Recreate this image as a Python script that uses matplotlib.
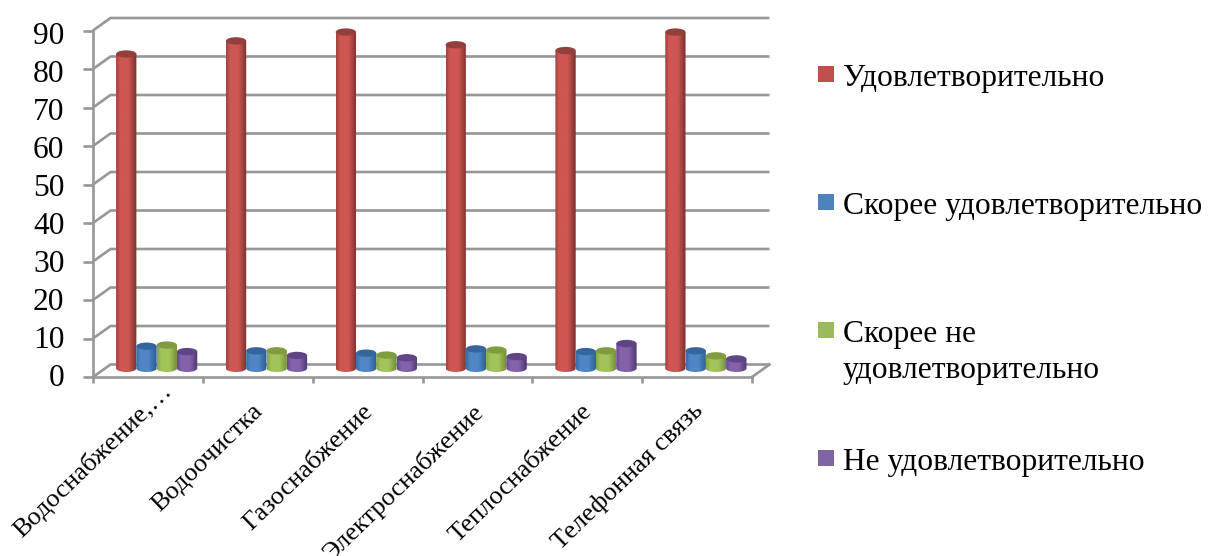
import numpy as np
import matplotlib
matplotlib.use("Agg")
import matplotlib.pyplot as plt
from matplotlib.colors import LinearSegmentedColormap
from matplotlib.patches import Ellipse, PathPatch, Rectangle
from matplotlib.path import Path
from matplotlib.transforms import ScaledTranslation

plt.rcParams['font.family'] = ['Liberation Serif', 'DejaVu Serif']

categories = ["Водоснабжение,…", "Водоочистка", "Газоснабжение",
              "Электроснабжение", "Теплоснабжение", "Телефонная связь"]
series_names = ["Удовлетворительно", "Скорее удовлетворительно",
                "Скорее не\nудовлетворительно", "Не удовлетворительно"]
satisfied = [82.6, 86.0, 88.3, 85.0, 83.5, 88.3]
rather_satisfied = [6.7, 5.5, 4.9, 6.0, 5.3, 5.5]
rather_not = [7.0, 5.5, 4.4, 5.7, 5.5, 4.2]
not_satisfied = [5.3, 4.3, 3.7, 4.0, 7.4, 3.4]
series = [satisfied, rather_satisfied, rather_not, not_satisfied]
y_ticks = list(range(0, 100, 10))

# (left edge, light, right edge, top cap, legend)
palette = [("#a04340", "#cf5653", "#78302d", "#933f3c", "#c0504d"),
           ("#3a6ca6", "#4f86c6", "#2c5a8f", "#35659c", "#4f81bd"),
           ("#86a645", "#a2c45a", "#6f8a35", "#7f9c40", "#9bbb59"),
           ("#654a8c", "#8562ab", "#4e3870", "#5f4585", "#8064a2")]
legend_y = [74, 202, 330, 458]
label_dx = [12, -6, -6, -6, -6, -6]
label_dy = [379, 400, 400, 400, 400, 399]

W, H = 1208, 556
fig = plt.figure(figsize=(W / 100, H / 100), dpi=100, facecolor="white")
x0, x1, y0, y90 = 93, 752, 377, 30.5
ax = fig.add_axes([x0 / W, 1 - y0 / H, (x1 - x0) / W, (y0 - y90) / H])
ax.set_xlim(0, 6)
ax.set_ylim(0, 90)
ax.patch.set_alpha(0)

grey = "#979797"
lw = 1.9
dx, dy = 17.5 / 109.8, 12.5 / 3.85
px = 72 / 100  # one pixel in points

# back wall and side wall lines
for v in y_ticks:
    ax.plot([0, dx, 6 + dx], [v, v + dy, v + dy], color=grey, lw=lw, clip_on=False, zorder=1,
            solid_capstyle="butt", solid_joinstyle="miter")
ax.plot([6, 6 + dx], [0, dy], color=grey, lw=lw, clip_on=False, zorder=1)

for s in ("top", "right"):
    ax.spines[s].set_visible(False)
for s in ("left", "bottom"):
    ax.spines[s].set_color(grey)
    ax.spines[s].set_linewidth(lw)
    ax.spines[s].set_zorder(2)
ax.set_yticks(y_ticks)
ax.set_xticks(range(7))
ax.set_xticklabels([])
ax.tick_params(axis="y", length=7.5, width=lw, color=grey, labelsize=22.7, pad=13)
ax.tick_params(axis="x", length=4, width=lw, color=grey)
for v, lab in zip(y_ticks, ax.get_yticklabels()):
    lab.set_verticalalignment("center")
    lab.set_transform(lab.get_transform() +
                      ScaledTranslation(0, -(1 + (v / 90) * 4.5) / 100, fig.dpi_scale_trans))

# category labels
for i, name in enumerate(categories):
    ax.annotate(name, xy=(i + 0.5, 0), xycoords="data",
                xytext=(label_dx[i] * px, (y0 - label_dy[i]) * px), textcoords="offset points",
                rotation=44, rotation_mode="anchor", ha="right", va="top", fontsize=19,
                annotation_clip=False)

# cylinders
bw = 20.3 / 109.8
cap = 0.95
floor = 1.3 + cap


def cyl_path(xl, xr, top):
    t = np.linspace(np.pi, 2 * np.pi, 40)
    cx = (xl + xr) / 2
    r = (xr - xl) / 2
    xs = np.r_[cx + r * np.cos(t), xr, xl]
    ys = np.r_[floor + cap * np.sin(t), top, top]
    return Path(np.column_stack([xs, ys]), closed=False)


for j, vals in enumerate(series):
    c = palette[j]
    cmap = LinearSegmentedColormap.from_list(
        f"c{j}", [(0, c[0]), (0.2, c[1]), (0.6, c[1]), (1, c[2])])
    grad = np.linspace(0, 1, 64)[None, :]
    for i, v in enumerate(vals):
        xl = i + 0.5 + dx / 2 - 2 * bw + j * bw
        xr = xl + bw
        top = v + 1.3
        im = ax.imshow(grad, cmap=cmap, aspect="auto", extent=(xl, xr, floor - cap, top),
                       zorder=3 + j, interpolation="bilinear")
        clip = PathPatch(cyl_path(xl, xr, top), transform=ax.transData, fc="none", ec="none")
        ax.add_patch(clip)
        im.set_clip_path(clip)
        ax.add_patch(Ellipse(((xl + xr) / 2, top), bw, 2 * cap, angle=0, fc=c[3], ec="none",
                             zorder=3 + j, clip_on=False))
ax.set_xlim(0, 6)
ax.set_ylim(0, 90)

# legend
for name, c, ly in zip(series_names, palette, legend_y):
    fig.add_artist(Rectangle((818 / W, 1 - (ly + 8) / H), 16 / W, 16 / H,
                             transform=fig.transFigure, fc=c[4], ec="none"))
    fig.text(843 / W, 1 - (ly - 10) / H, name, fontsize=22.7, ha="left", va="top",
             linespacing=1.32, color="black")

fig.savefig("out.png", dpi=100)
